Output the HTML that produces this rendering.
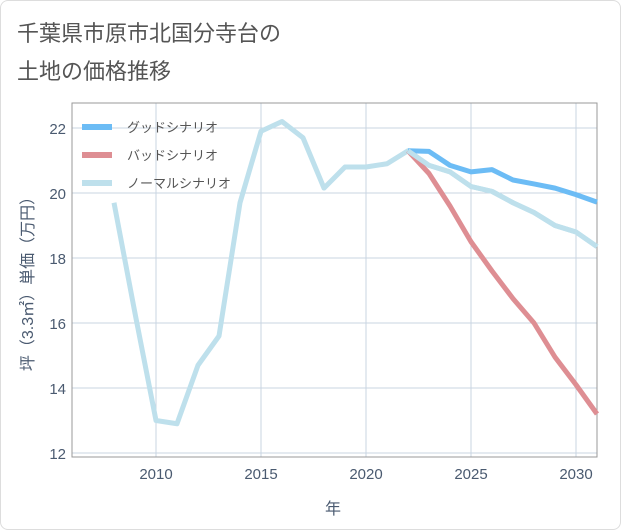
<!DOCTYPE html>
<html><head><meta charset="utf-8"><style>
body{margin:0;background:#fff;font-family:"Liberation Sans","Noto Sans CJK JP",sans-serif}
#wrap{position:relative;width:619px;height:528px;border:1px solid #ddd;border-radius:8px;overflow:hidden}
.title{position:absolute;left:16px;top:14px;font-size:22px;line-height:38px;color:#555}
</style></head><body>
<div id="wrap">
<div class="title">千葉県市原市北国分寺台の<br>土地の価格推移</div>
<svg id="c" width="621" height="530" style="position:absolute;left:-1px;top:-1px"></svg>
</div>
<script>
const years=[2008,2009,2010,2011,2012,2013,2014,2015,2016,2017,2018,2019,2020,2021,2022,2023,2024,2025,2026,2027,2028,2029,2030,2031];
const normal=[19.7,16.3,13.0,12.9,14.7,15.6,19.7,21.9,22.2,21.7,20.15,20.8,20.8,20.9,21.3,20.85,20.65,20.2,20.05,19.7,19.4,19.0,18.8,18.35];
const goodYears=[2022,2023,2024,2025,2026,2027,2028,2029,2030,2031];
const good=[21.3,21.28,20.85,20.65,20.72,20.4,20.28,20.15,19.95,19.72];
const bad=[21.3,20.6,19.6,18.5,17.6,16.75,16.0,14.95,14.1,13.2];
const xTicks=[2010,2015,2020,2025,2030];
const yTicks=[12,14,16,18,20,22];
const L=72,R=597,T=103,B=457;
const x=v=>156+(v-2010)*21;
const y=v=>453-(v-12)*32.5;
const s=document.getElementById('c'),NS='http://www.w3.org/2000/svg';
function mk(t,a,p){const e=document.createElementNS(NS,t);for(const k in a)e.setAttribute(k,a[k]);(p||s).appendChild(e);return e;}
xTicks.forEach(v=>{const l=mk('line',{x1:x(v),x2:x(v),y1:T,y2:B,stroke:'#c8d4e2'});


const t=mk('text',{x:x(v),y:479,'text-anchor':'middle','font-size':15,fill:'#4a5a70'});t.textContent=v;

});
yTicks.forEach(v=>{const l=mk('line',{x1:L,x2:R,y1:y(v),y2:y(v),stroke:'#c8d4e2'});


const t=mk('text',{x:66,y:y(v)+6,'text-anchor':'end','font-size':15,fill:'#4a5a70'});t.textContent=v;

});
const fr=mk('rect',{x:L,y:T,width:R-L,height:B-T,fill:'none',stroke:'#999'});


function line(xs,vs,col,name){const p=mk('polyline',{points:xs.map((v,i)=>x(v)+','+y(vs[i])).join(' '),fill:'none',stroke:col,'stroke-width':5,'stroke-linejoin':'round'});

}
line(years,normal,'#bee0ec','normal-scenario-line');
line(goodYears,bad,'#de8e93','bad-scenario-line');
line(goodYears,good,'#6cbcf5','good-scenario-line');
line(years.slice(14),normal.slice(14),'#bee0ec','normal-scenario-line-front');
const lg=[['グッドシナリオ','#6cbcf5'],['バッドシナリオ','#de8e93'],['ノーマルシナリオ','#bee0ec']];
lg.forEach((d,i)=>{const g=mk('g',{});


mk('rect',{x:82,y:124+i*28,width:30,height:6,fill:d[1]},g);
const t=mk('text',{x:127,y:132+i*28,'font-size':13,fill:'#555'},g);t.textContent=d[0];});
const xt=mk('text',{x:333,y:514,'text-anchor':'middle','font-size':16,fill:'#4a5a70'});xt.textContent='年';


const yt=mk('text',{x:0,y:0,'text-anchor':'middle','font-size':16,fill:'#4a5a70',transform:'translate(33,280) rotate(-90)'});yt.textContent='坪（3.3㎡）単価（万円）';


</script>
</body></html>
